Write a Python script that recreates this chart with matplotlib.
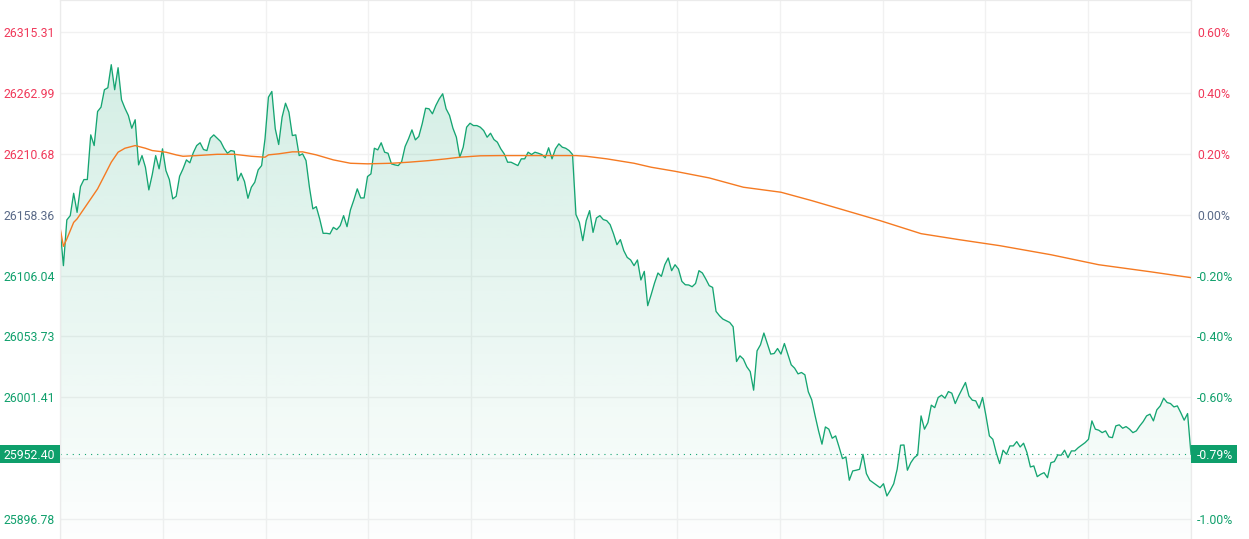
"""
Intraday index chart: last price with gradient area and average price line,
price scale on the left and change vs previous close on the right.
"""

import numpy as np
import matplotlib.pyplot as plt
from matplotlib.patches import Polygon, Rectangle
from matplotlib.colors import to_rgb

plt.rcParams['font.family'] = ['Roboto', 'DejaVu Sans']

# previous close and last traded price
prev_close = 26158.36
last_price = 25952.40

# left axis ticks (price) and matching right axis ticks (percent change)
price_ticks = [26315.31, 26262.99, 26210.68, 26158.36, 26106.04,
               26053.73, 26001.41, 25949.09, 25896.78]
pct_ticks = [0.60, 0.40, 0.20, 0.00, -0.20, -0.40, -0.60, -0.80, -1.00]

# one value per minute, morning session then afternoon session, closing auction last
price = [
    26147.4, 26114.5, 26153.8, 26157.5, 26176.7, 26160.3, 26182.5, 26188.5, 26188.5, 26226.9,
    26217.7, 26247.0, 26250.7, 26265.7, 26267.4, 26287.2, 26265.7, 26284.6, 26257.1, 26249.8,
    26243.6, 26232.6, 26239.9, 26201.1, 26209.1, 26199.1, 26179.6, 26192.8, 26209.1, 26197.7,
    26214.9, 26196.2, 26188.5, 26171.9, 26174.1, 26191.3, 26197.7, 26205.4, 26202.9, 26211.5,
    26217.7, 26220.1, 26214.3, 26213.4, 26224.0, 26226.9, 26224.0, 26221.2, 26215.4, 26211.1,
    26213.4, 26212.8, 26187.6, 26193.9, 26186.8, 26172.4, 26181.9, 26186.2, 26196.8, 26200.5,
    26223.5, 26259.3, 26264.2, 26232.1, 26218.6, 26242.1, 26254.1, 26246.4, 26226.3, 26226.9,
    26209.1, 26210.6, 26204.8, 26181.9, 26163.3, 26165.2, 26154.7, 26142.3, 26142.3, 26141.8,
    26147.4, 26145.5, 26148.9, 26157.5, 26148.0, 26162.4, 26171.0, 26180.5, 26172.7, 26172.7,
    26191.1, 26193.4, 26215.4, 26214.0, 26220.1, 26212.0, 26211.1, 26202.0, 26201.1, 26200.5,
    26204.0, 26216.9, 26223.5, 26231.2, 26222.6, 26225.5, 26236.4, 26249.8, 26249.3, 26245.0,
    26252.2, 26257.9, 26262.2, 26249.3, 26243.6, 26232.6, 26224.9, 26207.7, 26216.3, 26233.5,
    26236.9, 26234.9, 26234.9, 26233.5, 26230.6, 26224.9, 26228.3, 26222.9, 26220.6, 26214.9,
    26210.6, 26203.4, 26203.4, 26202.0, 26200.5, 26206.3, 26206.3, 26212.0, 26210.0, 26212.0,
    26211.1, 26210.0, 26207.2, 26215.8, 26206.3, 26214.9, 26219.2, 26216.3, 26215.4, 26213.4,
    26210.0, 26158.4, 26151.7, 26136.0, 26153.2, 26161.8, 26143.1, 26155.5, 26157.5, 26154.1,
    26153.2, 26149.8, 26141.8, 26132.5, 26136.9, 26127.4, 26121.6, 26119.4, 26114.5, 26119.4,
    26102.2, 26109.6, 26080.1, 26089.5, 26099.6, 26108.2, 26105.3, 26115.3, 26121.1, 26110.2,
    26115.3, 26111.6, 26101.0, 26098.1, 26097.9, 26096.4, 26099.2, 26110.2, 26108.2, 26103.0,
    26097.3, 26095.8, 26075.2, 26071.5, 26068.6, 26067.2, 26065.7, 26062.0, 26032.1, 26037.0,
    26034.2, 26027.6, 26023.5, 26007.5, 26041.3, 26046.5, 26056.6, 26047.6, 26038.5, 26039.0,
    26043.3, 26038.5, 26047.6, 26038.5, 26029.3, 26026.4, 26021.5, 26022.7, 26020.7, 26006.1,
    25999.2, 25985.4, 25972.5, 25961.1, 25975.9, 25974.0, 25966.2, 25968.2, 25958.7, 25948.7,
    25950.1, 25930.1, 25938.1, 25938.7, 25939.5, 25952.4, 25935.8, 25930.1, 25928.0, 25926.0,
    25923.7, 25927.1, 25916.6, 25921.5, 25927.1, 25939.5, 25960.2, 25960.4, 25938.7, 25945.2,
    25949.5, 25951.8, 25985.4, 25974.0, 25979.6, 25994.6, 25992.5, 26001.2, 26003.2, 26000.6,
    26006.3, 26004.9, 25996.0, 26002.6, 26008.4, 26014.1, 26002.6, 25998.9, 25998.3, 25992.0,
    26001.2, 25985.4, 25968.2, 25965.3, 25953.8, 25944.4, 25955.9, 25952.4, 25959.6, 25959.6,
    25963.3, 25958.7, 25961.9, 25953.8, 25941.5, 25942.4, 25933.2, 25935.2, 25936.6, 25932.3,
    25945.2, 25946.1, 25951.8, 25951.6, 25955.9, 25949.5, 25955.3, 25955.3, 25958.1, 25960.2,
    25962.4, 25965.3, 25981.1, 25974.0, 25973.1, 25971.0, 25972.5, 25967.3, 25966.7, 25976.8,
    25977.7, 25974.8, 25976.2, 25974.0, 25971.0, 25972.5, 25976.8, 25980.5, 25985.4, 25986.9,
    25981.1, 25990.6, 25994.0, 26000.6, 25996.9, 25996.0, 25993.1, 25994.0, 25988.2, 25981.7,
    25987.4, 25952.4,
]

# average price line, read at its turning points (minute index, price)
avg_idx = [0, 1, 2, 3, 4, 5, 7, 9, 11, 13, 15, 17, 19, 22, 25, 27, 31, 34, 36, 40,
           46, 51, 56, 60, 61, 64, 68, 71, 75, 80, 85, 90, 97, 102, 108, 113, 117, 123,
           129, 137, 144, 151, 154, 160, 168, 173, 180, 190, 200, 211, 220, 230, 240,
           252, 263, 275, 290, 304, 319, 331]
avg_price = [26147.4, 26131.1, 26137.5, 26144.6, 26151.7, 26154.7, 26163.3, 26171.9,
             26180.5, 26191.9, 26203.4, 26212.0, 26215.4, 26217.7, 26215.4, 26213.4,
             26212.0, 26209.7, 26208.5, 26209.1, 26210.2, 26210.2, 26208.5, 26207.7,
             26209.7, 26210.6, 26212.3, 26212.3, 26209.7, 26205.4, 26202.5, 26202.0,
             26202.5, 26203.4, 26204.8, 26206.3, 26207.7, 26208.9, 26209.1, 26209.1,
             26209.1, 26209.1, 26208.5, 26206.3, 26202.5, 26199.1, 26195.6, 26189.9,
             26181.9, 26177.6, 26170.4, 26161.8, 26153.2, 26142.0, 26136.9, 26131.7,
             26123.9, 26115.3, 26109.3, 26104.2]

GREEN = '#15a572'
LABEL_GREEN = '#10a06c'
RED = '#f0395a'
NEUTRAL = '#5a6a88'
ORANGE = '#f57a22'
GRID = '#f1f1f1'

W, H = 1249, 539
fig = plt.figure(figsize=(W / 100, H / 100), dpi=100)
ax = fig.add_axes([60 / W, 0, 1131 / W, 1])

x = np.arange(len(price))
y_lo, y_hi = 25879.6, 26342.8
ax.set_xlim(0, len(price) - 1)
ax.set_ylim(y_lo, y_hi)

# gradient area under the price line
poly = Polygon(np.column_stack([np.r_[x, x[-1], x[0]],
                                np.r_[price, y_lo, y_lo]]),
               closed=True, facecolor='none', edgecolor='none')
ax.add_patch(poly)
rgba = np.zeros((256, 1, 4))
rgba[:, 0, :3] = to_rgb(GREEN)
rgba[:, 0, 3] = np.linspace(0.21, 0.01, 256)
im = ax.imshow(rgba, extent=[x[0], x[-1], y_lo, y_hi], origin='upper',
               aspect='auto', interpolation='bilinear', zorder=1)
im.set_clip_path(poly)

ax.plot(x, price, color=GREEN, lw=0.95, zorder=3)
ax.plot(avg_idx, avg_price, color=ORANGE, lw=1.0, zorder=4)
ax.axhline(last_price, color=GREEN, lw=0.8, ls=(0, (1, 4.5)), zorder=2)

# grid
ax.set_xticks(np.linspace(0, len(price) - 1, 12))
ax.set_yticks(price_ticks)
ax.grid(True, color=GRID, lw=1.0, zorder=0)
ax.set_axisbelow(True)
ax.tick_params(axis='x', length=0, labelbottom=False)
ax.tick_params(axis='y', length=0, pad=3.6, labelsize=8.8)

def tick_color(v):
    if abs(v) < 1e-9:
        return NEUTRAL
    return RED if v > 0 else LABEL_GREEN

ax.set_yticklabels(['' if p == -0.80 else f'{v:.2f}'
                    for v, p in zip(price_ticks, pct_ticks)])
for lab, p in zip(ax.get_yticklabels(), pct_ticks):
    lab.set_color(tick_color(p))

ax2 = ax.twinx()
ax2.set_ylim(y_lo, y_hi)
ax2.set_yticks(price_ticks)
ax2.set_yticklabels(['' if p == -0.80 else f'{p:.2f}%' for p in pct_ticks])
ax2.tick_params(axis='y', length=0, pad=4.3, labelsize=8.8)
for lab, p in zip(ax2.get_yticklabels(), pct_ticks):
    lab.set_color(tick_color(p))

for a in (ax, ax2):
    for side in ('left', 'right', 'top'):
        a.spines[side].set_color('#ebebeb')
    a.spines['bottom'].set_visible(False)

# last price boxes on both scales
y_pix = ax.transData.transform((0, last_price))[1]
box_h = 18
fig.add_artist(Rectangle((0, (y_pix - box_h / 2) / H), 60 / W, box_h / H,
                         transform=fig.transFigure, facecolor='#0e9f6b',
                         edgecolor='none', zorder=5))
fig.add_artist(Rectangle((1191 / W, (y_pix - box_h / 2) / H), 46 / W, box_h / H,
                         transform=fig.transFigure, facecolor='#0e9f6b',
                         edgecolor='none', zorder=5))
last_pct = (last_price / prev_close - 1) * 100
fig.text(55 / W, y_pix / H, f'{last_price:.2f}', ha='right', va='center_baseline',
         color='white', fontsize=8.8, zorder=6)
fig.text(1197 / W, y_pix / H, f'{last_pct:.2f}%', ha='left', va='center_baseline',
         color='white', fontsize=8.8, zorder=6)

fig.savefig('out.png', dpi=100)
